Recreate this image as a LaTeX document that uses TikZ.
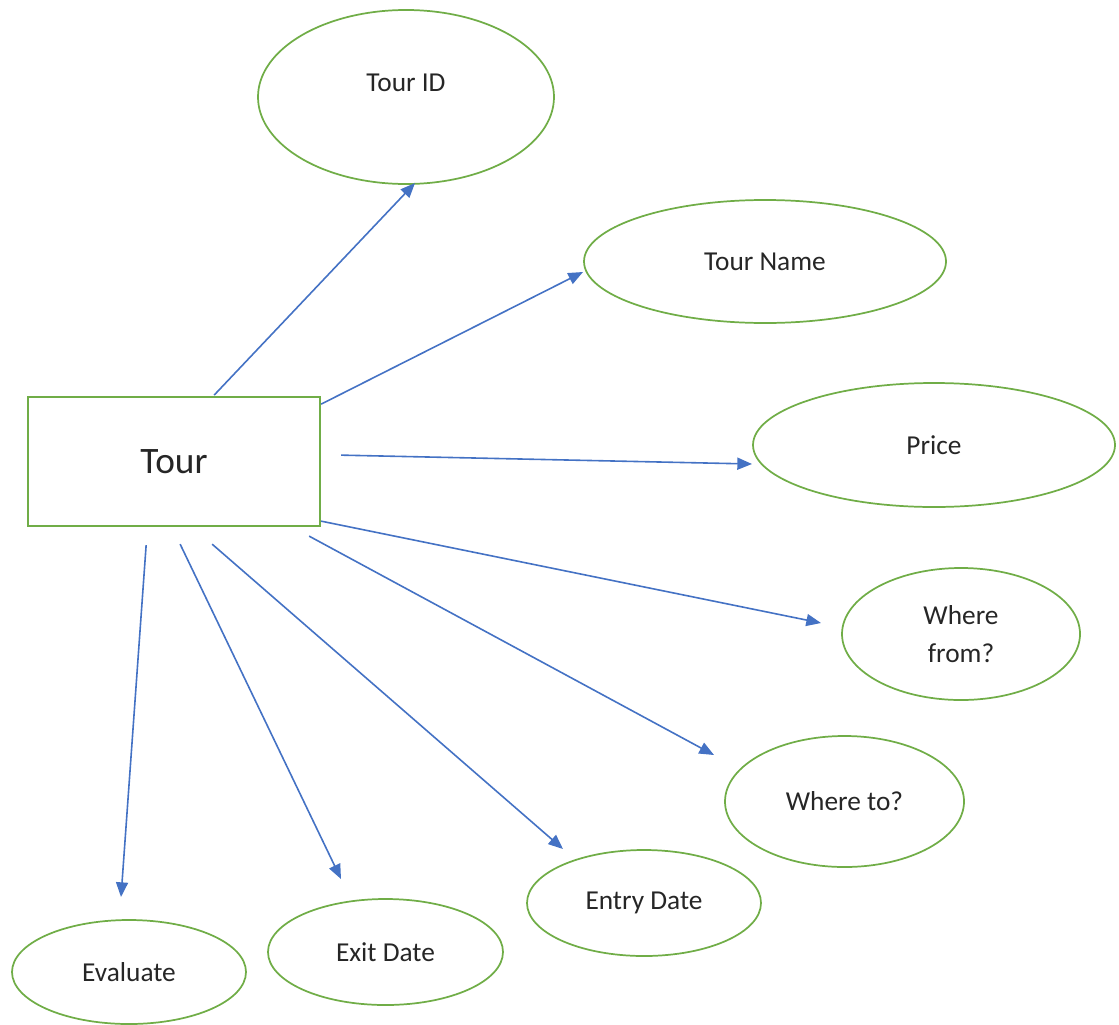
\documentclass[tikz,border=0pt]{standalone}
\usepackage{fontspec}
\setmainfont{Carlito}
\usetikzlibrary{shapes.geometric,arrows.meta,calc}
\definecolor{attrgreen}{HTML}{70AD47}
\definecolor{linkblue}{HTML}{4472C4}
\begin{document}
\begin{tikzpicture}[x=0.75pt,y=-0.75pt,
  lab/.style={font=\fontsize{20.5}{28.5}\selectfont,text=black!85,align=center},
  attr/.style={ellipse,draw=attrgreen,line width=1.3pt,inner sep=0pt,lab},
  ent/.style={rectangle,draw=attrgreen,line width=1.3pt,inner sep=0pt,font=\fontsize{28}{32}\selectfont,text=black!85},
  link/.style={draw=linkblue,line width=1.2pt,-{Triangle[length=11pt,width=9pt]}}]
\useasboundingbox (0,0) rectangle (1119,1024);
\node[ent,minimum width=219pt,minimum height=96.75pt] (tour) at (174,461.5) {Tour};
\node[attr,minimum width=222pt,minimum height=130.5pt,
      label={[lab,yshift=10.5pt]center:Tour ID}] (tid) at (406,97) {};
\node[attr,minimum width=271.5pt,minimum height=92.25pt] (tname) at (765,261.5) {Tour Name};
\node[attr,minimum width=271.5pt,minimum height=93pt] (price) at (934,445) {Price};
\node[attr,minimum width=178.5pt,minimum height=99pt] (wfrom) at (961,634) {Where\\from?};
\node[attr,minimum width=179.25pt,minimum height=98.25pt] (wto) at (844.5,801.5) {Where to?};
\node[attr,minimum width=175.5pt,minimum height=79.5pt] (entry) at (644,903) {Entry Date};
\node[attr,minimum width=176.25pt,minimum height=79.5pt] (exit) at (385.5,952) {Exit Date};
\node[attr,minimum width=175.5pt,minimum height=78pt] (eval) at (129,972) {Evaluate};
\draw[link] ($(tour.north west)+(187,-1)$) -- ($(tid.center)+(9,86)$);
\draw[link] ($(tour.north west)+(294,8)$) -- ($(tname.center)+(-182,10.5)$);
\draw[link] ($(tour.north west)+(314,59)$) -- ($(price.center)+(-182,19)$);
\draw[link] ($(tour.north west)+(294,125)$) -- ($(wfrom.center)+(-140,-11)$);
\draw[link] ($(tour.north west)+(282,140)$) -- ($(wto.center)+(-130.5,-46.5)$);
\draw[link] ($(tour.north west)+(185,148)$) -- ($(entry.center)+(-81,-54)$);
\draw[link] ($(tour.north west)+(153,148)$) -- ($(exit.center)+(-44.5,-73)$);
\draw[link] ($(tour.north west)+(119,149)$) -- ($(eval.center)+(-8,-75)$);
\end{tikzpicture}
\end{document}
